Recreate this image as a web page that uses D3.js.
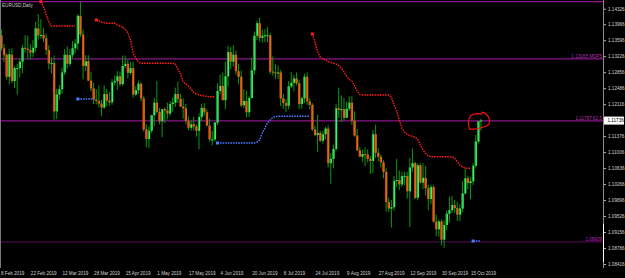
<!DOCTYPE html>
<html>
<head>
<meta charset="utf-8">
<script src="https://cdn.jsdelivr.net/npm/d3@7/dist/d3.min.js"></script>
<style>
html, body { margin: 0; padding: 0; background: #000; overflow: hidden; }
</style>
</head>
<body>
<svg id="chart" width="625" height="278"></svg>
<script>
// EURUSD daily, bar 0 = 5 Feb 2019, last bar = 21 Oct 2019
const opens = [
1.1436,1.1406,1.1371,1.1341,1.1326,1.1275,1.1326,1.1265,1.1295,1.1295,
1.1310,1.1342,1.1340,1.1337,1.1331,1.1342,1.1387,1.1371,1.1372,1.1364,
1.1337,1.1306,1.1307,1.1195,1.1234,1.1246,1.1285,1.1326,1.1305,1.1325,
1.1341,1.1352,1.1416,1.1373,1.1300,1.1311,1.1266,1.1248,1.1222,1.1219,
1.1213,1.1204,1.1235,1.1220,1.1216,1.1262,1.1265,1.1276,1.1258,1.1300,
1.1305,1.1284,1.1295,1.1234,1.1244,1.1259,1.1225,1.1153,1.1131,1.1150,
1.1186,1.1215,1.1194,1.1172,1.1200,1.1197,1.1190,1.1212,1.1215,1.1235,
1.1224,1.1206,1.1202,1.1173,1.1157,1.1165,1.1160,1.1150,1.1182,1.1203,
1.1193,1.1162,1.1130,1.1130,1.1169,1.1242,1.1254,1.1221,1.1276,1.1332,
1.1310,1.1326,1.1288,1.1275,1.1209,1.1219,1.1193,1.1226,1.1290,1.1370,
1.1399,1.1365,1.1370,1.1371,1.1371,1.1287,1.1285,1.1284,1.1285,1.1225,
1.1214,1.1208,1.1253,1.1261,1.1271,1.1260,1.1212,1.1225,1.1275,1.1218,
1.1210,1.1153,1.1140,1.1145,1.1127,1.1142,1.1155,1.1075,1.1085,1.1108,
1.1202,1.1198,1.1200,1.1180,1.1201,1.1215,1.1173,1.1139,1.1105,1.1090,
1.1096,1.1095,1.1085,1.1080,1.1142,1.1099,1.1090,1.1077,1.1055,1.0985,
1.0970,1.0973,1.1034,1.1036,1.1026,1.1045,1.1045,1.1010,1.1065,1.1075,
1.0995,1.1070,1.1030,1.1041,1.1017,1.0992,1.1020,1.0940,1.0922,1.0940,
1.0898,1.0932,1.0958,1.0966,1.0978,1.0971,1.0956,1.0970,1.1005,1.1040,
1.1029,1.1033,1.1069,1.1125,1.1172];
const highs = [
1.1446,1.1412,1.1384,1.1351,1.1329,1.1340,1.1341,1.1300,1.1305,1.1318,
1.1349,1.1371,1.1370,1.1350,1.1360,1.1402,1.1420,1.1408,1.1388,1.1375,
1.1348,1.1320,1.1324,1.1247,1.1256,1.1296,1.1339,1.1345,1.1339,1.1358,
1.1362,1.1420,1.1448,1.1384,1.1325,1.1325,1.1286,1.1261,1.1246,1.1255,
1.1221,1.1255,1.1247,1.1240,1.1270,1.1278,1.1288,1.1287,1.1324,1.1324,
1.1315,1.1309,1.1310,1.1253,1.1266,1.1262,1.1230,1.1165,1.1160,1.1187,
1.1226,1.1265,1.1203,1.1200,1.1204,1.1215,1.1219,1.1227,1.1250,1.1264,
1.1236,1.1225,1.1212,1.1183,1.1174,1.1182,1.1165,1.1190,1.1212,1.1214,
1.1200,1.1178,1.1150,1.1170,1.1260,1.1280,1.1285,1.1310,1.1347,1.1344,
1.1348,1.1336,1.1305,1.1290,1.1246,1.1242,1.1230,1.1320,1.1380,1.1404,
1.1412,1.1384,1.1385,1.1390,1.1377,1.1322,1.1304,1.1301,1.1291,1.1235,
1.1223,1.1265,1.1286,1.1279,1.1285,1.1268,1.1228,1.1282,1.1285,1.1225,
1.1214,1.1162,1.1187,1.1150,1.1150,1.1159,1.1163,1.1098,1.1118,1.1212,
1.1250,1.1232,1.1226,1.1217,1.1230,1.1230,1.1195,1.1154,1.1112,1.1106,
1.1112,1.1107,1.1092,1.1152,1.1164,1.1110,1.1095,1.1082,1.1063,1.0995,
1.0990,1.1045,1.1085,1.1058,1.1055,1.1055,1.1055,1.1087,1.1109,1.1078,
1.1074,1.1075,1.1075,1.1068,1.1025,1.1025,1.1024,1.0956,1.0945,1.0944,
1.0943,1.0965,1.0998,1.0999,1.0990,1.0985,1.0980,1.1033,1.1063,1.1046,
1.1043,1.1075,1.1140,1.1172,1.1178];
const lows = [
1.1397,1.1362,1.1335,1.1309,1.1268,1.1257,1.1260,1.1249,1.1234,1.1273,
1.1283,1.1331,1.1317,1.1315,1.1320,1.1333,1.1361,1.1363,1.1355,1.1326,
1.1292,1.1283,1.1176,1.1177,1.1222,1.1236,1.1279,1.1294,1.1299,1.1318,
1.1329,1.1337,1.1367,1.1269,1.1288,1.1266,1.1241,1.1212,1.1211,1.1204,
1.1184,1.1200,1.1207,1.1208,1.1210,1.1255,1.1245,1.1253,1.1254,1.1295,
1.1271,1.1280,1.1226,1.1230,1.1235,1.1218,1.1148,1.1112,1.1110,1.1144,
1.1160,1.1191,1.1165,1.1135,1.1168,1.1176,1.1185,1.1194,1.1205,1.1214,
1.1205,1.1178,1.1165,1.1152,1.1150,1.1151,1.1136,1.1107,1.1172,1.1185,
1.1160,1.1125,1.1116,1.1125,1.1163,1.1235,1.1220,1.1200,1.1253,1.1292,
1.1299,1.1280,1.1258,1.1205,1.1203,1.1181,1.1182,1.1224,1.1280,1.1360,
1.1356,1.1354,1.1355,1.1355,1.1281,1.1278,1.1270,1.1270,1.1207,1.1201,
1.1193,1.1200,1.1249,1.1241,1.1255,1.1200,1.1201,1.1214,1.1210,1.1200,
1.1150,1.1138,1.1101,1.1124,1.1120,1.1130,1.1065,1.1027,1.1063,1.1103,
1.1180,1.1170,1.1173,1.1180,1.1196,1.1164,1.1136,1.1103,1.1090,1.1078,
1.1068,1.1077,1.1050,1.1052,1.1087,1.1080,1.1065,1.1040,1.0963,1.0962,
1.0926,1.0965,1.1020,1.1013,1.1020,1.1024,1.0993,1.0927,1.1055,1.0992,
1.0989,1.1028,1.1015,1.1000,1.0966,1.0980,1.0937,1.0906,1.0905,1.0885,
1.0879,1.0920,1.0937,1.0960,1.0960,1.0941,1.0941,1.0962,1.1002,1.1015,
1.0991,1.1024,1.1063,1.1120,1.1150];
const closes = [
1.1406,1.1371,1.1341,1.1325,1.1275,1.1327,1.1265,1.1295,1.1295,1.1310,
1.1342,1.1340,1.1337,1.1331,1.1342,1.1387,1.1371,1.1372,1.1364,1.1337,
1.1306,1.1307,1.1195,1.1234,1.1246,1.1285,1.1326,1.1305,1.1325,1.1341,
1.1352,1.1416,1.1373,1.1300,1.1311,1.1266,1.1248,1.1222,1.1219,1.1213,
1.1204,1.1235,1.1220,1.1216,1.1262,1.1265,1.1276,1.1258,1.1300,1.1305,
1.1284,1.1295,1.1234,1.1244,1.1259,1.1225,1.1153,1.1131,1.1150,1.1186,
1.1215,1.1194,1.1172,1.1200,1.1197,1.1190,1.1212,1.1215,1.1235,1.1224,
1.1206,1.1202,1.1173,1.1157,1.1165,1.1160,1.1150,1.1182,1.1203,1.1193,
1.1162,1.1130,1.1130,1.1169,1.1242,1.1254,1.1221,1.1276,1.1332,1.1310,
1.1326,1.1288,1.1275,1.1209,1.1219,1.1193,1.1226,1.1290,1.1370,1.1399,
1.1365,1.1370,1.1371,1.1371,1.1287,1.1285,1.1284,1.1285,1.1225,1.1214,
1.1208,1.1253,1.1261,1.1271,1.1260,1.1212,1.1225,1.1275,1.1218,1.1210,
1.1153,1.1140,1.1145,1.1127,1.1142,1.1155,1.1075,1.1085,1.1108,1.1202,
1.1198,1.1200,1.1180,1.1201,1.1215,1.1173,1.1139,1.1105,1.1090,1.1096,
1.1095,1.1085,1.1080,1.1142,1.1099,1.1090,1.1077,1.1055,1.0985,1.0970,
1.0973,1.1034,1.1036,1.1026,1.1045,1.1045,1.1010,1.1065,1.1075,1.0995,
1.1070,1.1030,1.1041,1.1017,1.0992,1.1020,1.0940,1.0922,1.0940,1.0898,
1.0932,1.0958,1.0966,1.0978,1.0971,1.0956,1.0970,1.1005,1.1040,1.1029,
1.1033,1.1069,1.1125,1.1172,1.1174];

// trailing stop segments: [first bar, values...]
const redStops = [
  [17, [1.14488,1.14365,1.14192,1.14018,1.13925,1.13925,1.13925,1.13925,1.13925,1.13925,1.13925,1.13925,1.13925,1.13925]],
  [38, [1.14064,1.14041,1.14018,1.14002,1.13990,1.13988,1.13988,1.13988,1.13949,1.13925,1.13902,1.13845,1.13763,1.13601,
        1.13300,1.13185,1.13092,1.13062,1.13062,1.13062,1.13062,1.13062,1.13062,1.13062,1.13062,1.13062,1.13062,1.13062,
        1.13062,1.13062,1.13046,1.12930,1.12814,1.12629,1.12583,1.12537,1.12467,1.12386,1.12351,1.12328,1.12316,1.12305,
        1.12298,1.12289,1.12289,1.12289]],
  [120, [1.13740,1.13555,1.13323,1.13208,1.13162,1.13138,1.13099,1.13081,1.13062,1.13046,1.13011,1.12953,1.12861,1.12768,
         1.12687,1.12652,1.12548,1.12421,1.12340,1.12328,1.12328,1.12328,1.12328,1.12328,1.12328,1.12328,1.12328,1.12328,
         1.12328,1.12328,1.12282,1.12097,1.11957,1.11749,1.11564,1.11460,1.11414,1.11391,1.11372,1.11349,1.11298,1.11171,
         1.11055,1.10975,1.10917,1.10900,1.10900,1.10900,1.10900,1.10900,1.10900,1.10900,1.10900,1.10893,1.10870,1.10784,
         1.10708,1.10661,1.10638,1.10631,1.10631]]
];
const blueStops = [
  [31, [1.12236,1.12236,1.12236,1.12236,1.12236,1.12236,1.12236]],
  [84, [1.11217,1.11217,1.11217,1.11217,1.11217,1.11217,1.11217,1.11217,1.11217,1.11217,1.11217,1.11217,1.11217,1.11217,
        1.11217,1.11240,1.11286,1.11448,1.11564,1.11680,1.11749,1.11807,1.11826,1.11835,1.11835,1.11835,1.11835,1.11835,
        1.11835,1.11835,1.11835,1.11835,1.11835,1.11835,1.11835,1.11835]],
  [181, [1.08948,1.08948,1.08948,1.08948]]
];

const priceTicks = [1.14326,1.13966,1.13596,1.13226,1.12856,1.12486,1.12116,1.11376,1.11006,
                    1.10636,1.10266,1.09896,1.09526,1.09156,1.08786,1.08416];
const dateTicks = [3,13,25,37,49,61,73,85,97,109,121,133,145,157,169,180];
const dateLabels = ["8 Feb 2019","22 Feb 2019","12 Mar 2019","28 Mar 2019","15 Apr 2019","1 May 2019",
                    "17 May 2019","4 Jun 2019","20 Jun 2019","8 Jul 2019","24 Jul 2019","9 Aug 2019",
                    "27 Aug 2019","12 Sep 2019","30 Sep 2019","15 Oct 2019"];
const levels = [1.14490, 1.13165, 1.11730, 1.08929];
const levelLabels = ["", "1.13165  MDP5", "1.11787  62.5", "1.08929"];
const levelColors = ["#8a168a", "#8a168a", "#8a168a", "#4a0a4a"];
const lastPrice = 1.11736;
const symbolTitle = "EURUSD,Daily";

let svg = d3.select("#chart");
let width = 625, height = 278;
let plotRight = 603;
let bullBody = "#40f070";
let bullEdge = "#109a20";
let bearBody = "#c27c14";
let bearEdge = "#ff2a10";
let wickColor = "#0a9a0a";
let axisText = "#d0d0d0";
let fontName = "'Liberation Sans', Arial, sans-serif";

let x = d3.scaleLinear().domain([0, 184]).range([-3.9, 481]);
let y = d3.scaleLinear().domain([1.08416, 1.14326]).range([264, 8.7]);

svg.append("rect").attr("width", width).attr("height", height).attr("fill", "#000");

let plot = svg.append("g");
plot.append("clipPath").attr("id", "clip")
  .append("rect").attr("x", 0).attr("y", 0).attr("width", plotRight).attr("height", 268);
let inner = plot.append("g").attr("clip-path", "url(#clip)");

// horizontal level lines
levels.forEach(function(p, k) {
  inner.append("line")
    .attr("x1", 0).attr("x2", plotRight)
    .attr("y1", y(p)).attr("y2", y(p))
    .attr("stroke", levelColors[k]).attr("stroke-width", 1.3);
});

// candles
let idx = d3.range(opens.length);
let isUp = i => closes[i] >= opens[i];
inner.selectAll("line.wick").data(idx).join("line")
  .attr("class", "wick")
  .attr("x1", i => x(i)).attr("x2", i => x(i))
  .attr("y1", i => y(highs[i])).attr("y2", i => y(lows[i]))
  .attr("stroke", wickColor).attr("stroke-width", 1);

inner.selectAll("rect.body").data(idx).join("rect")
  .attr("class", "body")
  .attr("x", i => x(i) - 1)
  .attr("width", 2.2)
  .attr("y", i => y(Math.max(opens[i], closes[i])))
  .attr("height", i => Math.max(1, Math.abs(y(opens[i]) - y(closes[i]))))
  .attr("fill", i => isUp(i) ? bullBody : bearBody);

inner.selectAll("line.edge").data(idx).join("line")
  .attr("class", "edge")
  .attr("x1", i => x(i) - 0.6).attr("x2", i => x(i) - 0.6)
  .attr("y1", i => y(Math.max(opens[i], closes[i])))
  .attr("y2", i => y(Math.max(opens[i], closes[i])) + Math.max(1, Math.abs(y(opens[i]) - y(closes[i]))))
  .attr("stroke", i => isUp(i) ? bullEdge : bearEdge)
  .attr("stroke-width", 0.8);

// trailing stops
function drawStops(segments, color) {
  segments.forEach(function(seg) {
    let pts = seg[1].map((v, k) => [x(seg[0] + k), y(v)]);
    inner.append("path")
      .attr("d", d3.line()(pts))
      .attr("fill", "none")
      .attr("stroke", color)
      .attr("stroke-width", 1.4)
      .attr("stroke-dasharray", "1.6,1");
    inner.append("rect")
      .attr("x", pts[0][0] - 1.5).attr("y", pts[0][1] - 1.5)
      .attr("width", 3).attr("height", 3)
      .attr("fill", color);
  });
}
drawStops(redStops, "#ff1a1a");
drawStops(blueStops, "#4a78ff");

// level labels
levels.forEach(function(p, k) {
  if (!levelLabels[k]) return;
  plot.append("text")
    .attr("x", plotRight - 1).attr("y", y(p) - 1.2)
    .attr("text-anchor", "end")
    .attr("font-family", fontName).attr("font-size", 4.6)
    .attr("fill", k == 3 ? "#c020c0" : "#b030b0")
    .text(levelLabels[k]);
});

// annotation circle around the last bars
let cx = x(183), cy = y(1.1170);
svg.append("path")
  .attr("d", "M" + (cx + 3) + "," + (cy - 10) +
    " C" + (cx + 9) + "," + (cy - 9) + " " + (cx + 12) + "," + (cy - 4) + " " + (cx + 11) + "," + (cy + 1) +
    " C" + (cx + 10) + "," + (cy + 5) + " " + (cx + 2) + "," + (cy + 6) + " " + (cx - 4) + "," + (cy + 7) +
    " L" + (cx - 9) + "," + (cy + 7) +
    " C" + (cx - 10) + "," + (cy + 3) + " " + (cx - 10) + "," + (cy - 3) + " " + (cx - 8) + "," + (cy - 6) +
    " C" + (cx - 5) + "," + (cy - 9) + " " + (cx - 1) + "," + (cy - 9) + " " + (cx + 4) + "," + (cy - 8))
  .attr("fill", "none").attr("stroke", "#ff1010").attr("stroke-width", 1.1);

// right price axis
let yAxis = d3.axisRight(y).tickValues(priceTicks).tickSize(2.5).tickPadding(2).tickFormat(d3.format(".5f"));
let ya = svg.append("g").attr("transform", "translate(" + (plotRight + 0.5) + ",0)").call(yAxis);
ya.select(".domain").attr("stroke", "#8c8c8c").attr("d", "M0,0V268");
ya.selectAll(".tick line").attr("stroke", "#b0b0b0");
ya.selectAll(".tick text").attr("fill", axisText).attr("font-family", fontName).attr("font-size", 4.6);
svg.append("line").attr("x1", plotRight + 0.5).attr("x2", plotRight + 0.5)
  .attr("y1", 224).attr("y2", 262).attr("stroke", "#ffffff").attr("stroke-width", 1);

// current price marker
svg.append("rect").attr("x", plotRight + 1).attr("y", y(lastPrice) - 4)
  .attr("width", 20).attr("height", 8).attr("fill", "#ffffff");
svg.append("text").attr("x", plotRight + 4.5).attr("y", y(lastPrice) + 1.7)
  .attr("font-family", fontName).attr("font-size", 4.6).attr("fill", "#000")
  .text(d3.format(".5f")(lastPrice));

// date axis
let xAxis = d3.axisBottom(x).tickValues(dateTicks).tickSize(0).tickFormat((d, k) => dateLabels[k]);
let xa = svg.append("g").attr("transform", "translate(0,268)").call(xAxis);
xa.select(".domain").remove();
xa.selectAll(".tick text").attr("fill", axisText).attr("font-family", fontName).attr("font-size", 4.6)
  .attr("text-anchor", "start").attr("dy", "0").attr("y", 7);
xa.selectAll(".tick").filter((d, k) => k == 0).attr("transform", "translate(1,0)");

// left border and title
svg.append("line").attr("x1", 0.5).attr("x2", 0.5).attr("y1", 0).attr("y2", 268)
  .attr("stroke", "#7a7a7a");
svg.append("text").attr("x", 2).attr("y", 6.5)
  .attr("font-family", fontName).attr("font-size", 4.6).attr("fill", "#c8c8c8")
  .text(symbolTitle);
</script>
</body>
</html>
